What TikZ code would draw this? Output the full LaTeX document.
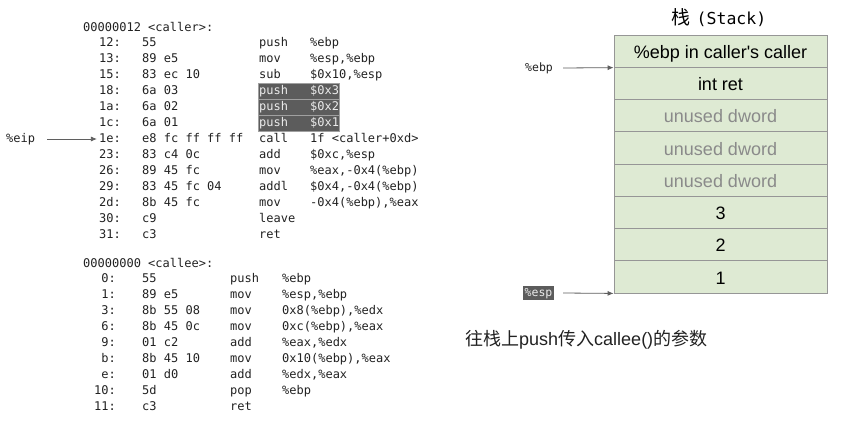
\documentclass[tikz,border=0pt]{standalone}
\usepackage{fontspec}
\setmainfont{Liberation Sans}
\newfontfamily\cjk{Noto Sans CJK SC}
\newfontfamily\codefont{DejaVu Sans Mono}
\usetikzlibrary{arrows.meta}
\definecolor{cellfill}{RGB}{222,234,211}
\definecolor{cellline}{RGB}{150,150,150}
\definecolor{hlfill}{RGB}{92,92,92}
\definecolor{hlline}{RGB}{160,160,160}
\definecolor{codetext}{RGB}{34,34,34}
\definecolor{unusedtext}{RGB}{138,138,138}
\definecolor{ptrcol}{RGB}{95,95,95}
\newcommand\asmrow[7]{%
  \node[code,anchor=east] (#1a) at (\addrx,#2) {#3};
  \node[code] (#1b) at (\bytex,#2) {#4};
  \node[code,#7] (#1m) at (\mnx,#2) {#5};
  \node[code,#7] (#1o) at (\opx,#2) {#6};}
\begin{document}
\begin{tikzpicture}[x=1pt,y=-1pt,
  code/.style={font=\codefont\fontsize{12}{14}\selectfont, inner sep=0pt,
    text height=9pt, text depth=2.5pt, anchor=west, text=codetext},
  hl/.style={text=white!92!black},
  hlbox/.style={fill=hlfill, draw=hlline, line width=0.6pt},
  cell/.style={draw=cellline, fill=cellfill, line width=0.8pt,
    minimum width=213pt, minimum height=32.25pt, inner sep=0pt,
    text height=16pt, text depth=1.5pt,
    font=\fontsize{18}{20}\selectfont, text=black},
  unused/.style={text=unusedtext},
  reglbl/.style={font=\codefont\fontsize{11.5}{13}\selectfont, inner sep=0pt,
    text height=9pt, text depth=2.5pt, anchor=west, text=codetext},
  ptr/.style={draw=ptrcol, line width=0.8pt, -{Latex[length=6pt,width=5pt]}}]
\useasboundingbox[fill=white] (0,0) rectangle (864,428);

% highlighted pushes
\path[hlbox] (258,83) rectangle (339,99);
\path[hlbox] (258,99) rectangle (339,115);
\path[hlbox] (258,115) rectangle (339,131);

% caller
\node[code] (callerhdr) at (83,28) {00000012 <caller>:};
\def\addrx{121}\def\bytex{142}\def\mnx{259}\def\opx{310}
\asmrow{c12}{43}{12:}{55}{push}{\%ebp}{}
\asmrow{c13}{59}{13:}{89 e5}{mov}{\%esp,\%ebp}{}
\asmrow{c15}{75}{15:}{83 ec 10}{sub}{\$0x10,\%esp}{}
\asmrow{c18}{91}{18:}{6a 03}{push}{\$0x3}{hl}
\asmrow{c1a}{107}{1a:}{6a 02}{push}{\$0x2}{hl}
\asmrow{c1c}{123}{1c:}{6a 01}{push}{\$0x1}{hl}
\asmrow{c1e}{139}{1e:}{e8 fc ff ff ff}{call}{1f <caller+0xd>}{}
\asmrow{c23}{155}{23:}{83 c4 0c}{add}{\$0xc,\%esp}{}
\asmrow{c26}{171}{26:}{89 45 fc}{mov}{\%eax,-0x4(\%ebp)}{}
\asmrow{c29}{187}{29:}{83 45 fc 04}{addl}{\$0x4,-0x4(\%ebp)}{}
\asmrow{c2d}{203}{2d:}{8b 45 fc}{mov}{-0x4(\%ebp),\%eax}{}
\asmrow{c30}{219}{30:}{c9}{leave}{}{}
\asmrow{c31}{235}{31:}{c3}{ret}{}{}

% eip pointer
\node[reglbl,font=\codefont\fontsize{12}{14}\selectfont] (eip) at (6,139) {\%eip};
\draw[ptr] ([xshift=12pt]eip.east) -- ([xshift=-2pt]c1ea.west);

% callee
\node[code] (calleehdr) at (83,264) {00000000 <callee>:};
\def\addrx{116}\def\bytex{142}\def\mnx{230}\def\opx{282}
\asmrow{e0}{279}{0:}{55}{push}{\%ebp}{}
\asmrow{e1}{295}{1:}{89 e5}{mov}{\%esp,\%ebp}{}
\asmrow{e3}{311}{3:}{8b 55 08}{mov}{0x8(\%ebp),\%edx}{}
\asmrow{e6}{327}{6:}{8b 45 0c}{mov}{0xc(\%ebp),\%eax}{}
\asmrow{e9}{343}{9:}{01 c2}{add}{\%eax,\%edx}{}
\asmrow{eb}{359}{b:}{8b 45 10}{mov}{0x10(\%ebp),\%eax}{}
\asmrow{ee}{375}{e:}{01 d0}{add}{\%edx,\%eax}{}
\asmrow{e10}{391}{10:}{5d}{pop}{\%ebp}{}
\asmrow{e11}{407}{11:}{c3}{ret}{}{}

% stack
\node[inner sep=0pt, text=black] (title) at (719,18)
  {{\cjk\fontsize{19}{22}\selectfont 栈}\hspace{6pt}{\codefont\fontsize{16.5}{19}\selectfont (Stack)}};
\node[cell] (s1) at (720.5,51.1) {\%ebp in caller\textquotesingle s caller};
\node[cell] (s2) at (720.5,83.4) {int ret};
\node[cell,unused] (s3) at (720.5,115.6) {unused dword};
\node[cell,unused] (s4) at (720.5,147.9) {unused dword};
\node[cell,unused] (s5) at (720.5,180.1) {unused dword};
\node[cell] (s6) at (720.5,212.4) {3};
\node[cell] (s7) at (720.5,244.6) {2};
\node[cell] (s8) at (720.5,276.9) {1};

\node[reglbl] (ebp) at (525,68) {\%ebp};
\draw[ptr] ([xshift=10pt]ebp.east) -- (s1.south west);
\node[reglbl, fill=hlfill, text=white!92!black, inner xsep=1.5pt, inner ysep=1.5pt] (esp) at (523,293) {\%esp};
\draw[ptr] ([xshift=9pt]esp.east) -- (s8.south west);

% caption
\node[anchor=west, inner sep=0pt, font=\fontsize{18}{21}\selectfont, text=codetext] (caption) at (465,340)
  {{\cjk 往栈上}push{\cjk 传入}callee(){\cjk 的参数}};
\end{tikzpicture}
\end{document}
